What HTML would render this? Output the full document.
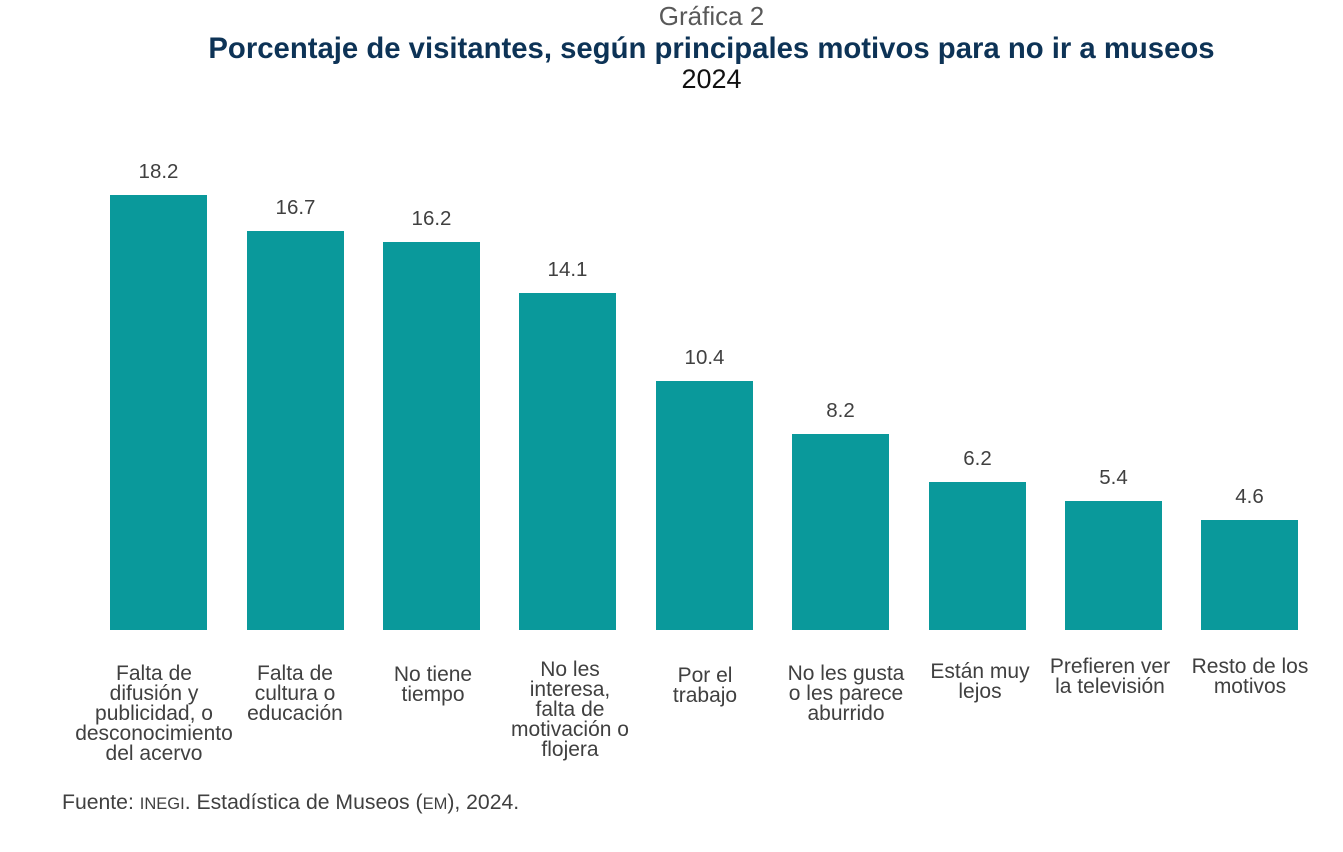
<!DOCTYPE html>
<html><head><meta charset="utf-8"><style>
body{margin:0;width:1343px;height:852px;background:#fff;font-family:"Liberation Sans",sans-serif;position:relative;overflow:hidden}
.t{position:absolute;white-space:nowrap}
.bar{position:absolute;background:#0A999B;width:97px}
.v{position:absolute;width:97px;text-align:center;font-size:20.5px;color:#404040}
.c{position:absolute;width:200px;text-align:center;font-size:21px;line-height:20px;color:#404040}
</style></head><body>
<div class="t" style="left:0;width:1423px;text-align:center;top:1px;font-size:26px;color:#595959">Gráfica 2</div>
<div class="t" style="left:0;width:1423px;text-align:center;top:32px;font-size:29.3px;font-weight:bold;color:#0D3356">Porcentaje de visitantes, según principales motivos para no ir a museos</div>
<div class="t" style="left:0;width:1423px;text-align:center;top:64px;font-size:27px;color:#111">2024</div>

<div class="bar" style="left:110px;top:195px;height:435px"></div>
<div class="bar" style="left:247px;top:231px;height:399px"></div>
<div class="bar" style="left:383px;top:242px;height:388px"></div>
<div class="bar" style="left:519px;top:293px;height:337px"></div>
<div class="bar" style="left:656px;top:381px;height:249px"></div>
<div class="bar" style="left:792px;top:434px;height:196px"></div>
<div class="bar" style="left:929px;top:482px;height:148px"></div>
<div class="bar" style="left:1065px;top:501px;height:129px"></div>
<div class="bar" style="left:1201px;top:520px;height:110px"></div>

<div class="v" style="left:110px;top:160px">18.2</div>
<div class="v" style="left:247px;top:196px">16.7</div>
<div class="v" style="left:383px;top:207px">16.2</div>
<div class="v" style="left:519px;top:258px">14.1</div>
<div class="v" style="left:656px;top:346px">10.4</div>
<div class="v" style="left:792px;top:399px">8.2</div>
<div class="v" style="left:929px;top:447px">6.2</div>
<div class="v" style="left:1065px;top:466px">5.4</div>
<div class="v" style="left:1201px;top:485px">4.6</div>

<div class="c" style="left:54px;top:664px">Falta de<br>difusión y<br>publicidad, o<br>desconocimiento<br>del acervo</div>
<div class="c" style="left:195px;top:664px">Falta de<br>cultura o<br>educación</div>
<div class="c" style="left:333px;top:665px">No tiene<br>tiempo</div>
<div class="c" style="left:470px;top:660px">No les<br>interesa,<br>falta de<br>motivación o<br>flojera</div>
<div class="c" style="left:605px;top:666px">Por el<br>trabajo</div>
<div class="c" style="left:746px;top:664px">No les gusta<br>o les parece<br>aburrido</div>
<div class="c" style="left:880px;top:662px">Están muy<br>lejos</div>
<div class="c" style="left:1010px;top:657px">Prefieren ver<br>la televisión</div>
<div class="c" style="left:1150px;top:657px">Resto de los<br>motivos</div>

<div class="t" style="left:62px;top:791px;font-size:21.2px;color:#404040">Fuente: <span style="font-size:16.5px">INEGI</span>. Estadística de Museos (<span style="font-size:16.5px">EM</span>), 2024.</div>
</body></html>
